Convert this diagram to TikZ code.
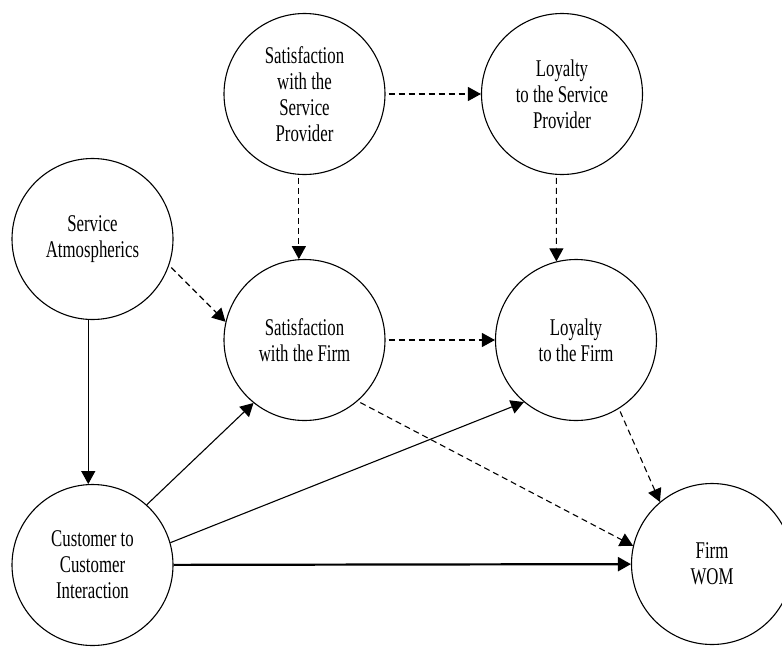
\documentclass[tikz,border=0pt]{standalone}
\usepackage{fontspec}
\setmainfont{Liberation Serif}[FakeStretch=0.7]
\usetikzlibrary{arrows.meta}
\tikzset{
  construct/.style = {draw, circle, minimum size=161pt, inner sep=0pt,
    align=center, line width=1.1pt, font=\fontsize{24}{26}\selectfont}
}
\tikzset{
  direct path/.style = {->, line width=1.1pt}
}
\tikzset{
  indirect path/.style = {->, line width=1.1pt, dash pattern=on 6pt off 4pt,
    shorten <=3pt}
}
\tikzset{
    >={Triangle[length=13pt, width=14pt]}
}

\begin{document}
\begin{tikzpicture}[x=1pt, y=-1pt]
  \useasboundingbox (0,0) rectangle (782,646);
  \clip (0,0) rectangle (782,646);

  % constructs
  \node[construct] (satsp) at (304.5,94) {Satisfaction\\with the\\Service\\Provider};
  \node[construct] (loysp) at (562,94) {Loyalty\\to the Service\\Provider};
  \node[construct] (servatm) at (92.5,239) {Service\\Atmospherics};
  \node[construct] (satfirm) at (304.5,340) {Satisfaction\\with the Firm};
  \node[construct] (loyfirm) at (576,340) {Loyalty\\to the Firm};
  \node[construct] (ctc) at (92.5,565) {Customer to\\Customer\\Interaction};
  \node[construct] (firmwom) at (712,564) {Firm\\WOM};

  % dashed paths
  \draw[indirect path] (satsp) -- (loysp);
  \draw[indirect path] (satsp.-94) -- (satfirm.94);
  \draw[indirect path] (loysp.-94) -- (loyfirm.104);
  \draw[indirect path] (servatm.-19) -- (satfirm.167);
  \draw[indirect path] (satfirm) -- (loyfirm);
  \draw[indirect path] (satfirm.-49) -- (firmwom.167);
  \draw[indirect path] (loyfirm.-58) -- (firmwom.130);

  % solid paths
  \draw[direct path] (servatm.-93) -- (ctc.93);
  \draw[direct path] (ctc.48) -- (satfirm.231);
  \draw[direct path] (ctc.16) -- (loyfirm.230);
  \draw[direct path, line width=2.2pt] (ctc) -- (firmwom);
\end{tikzpicture}
\end{document}
